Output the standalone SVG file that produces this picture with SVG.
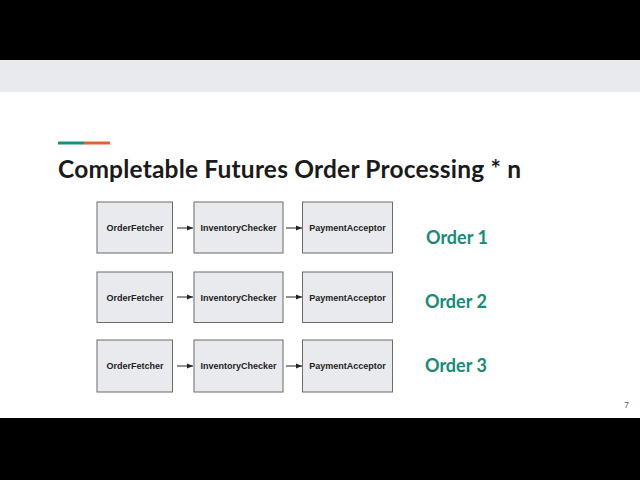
<svg xmlns="http://www.w3.org/2000/svg" width="640" height="480" viewBox="0 0 640 480">
<style>
.box{fill:#e9eaed;stroke:#6b6b6b;stroke-width:1}
.bt{font-family:"Liberation Sans",Arial,sans-serif;font-weight:bold;font-size:9px;fill:#222;text-anchor:middle}
.ord{font-family:Lato,"Liberation Sans",sans-serif;font-weight:bold;font-size:18px;fill:#178a78}
.conn{stroke:#222;stroke-width:1;fill:none;marker-end:url(#ah)}
</style>
<defs>
<marker id="ah" viewBox="0 0 10 10" refX="10" refY="5" markerWidth="6" markerHeight="6" markerUnits="userSpaceOnUse" orient="auto">
<path d="M0,1 L10,5 L0,9 Z" fill="#222"/>
</marker>
</defs>
<rect x="0" y="0" width="640" height="480" fill="#ffffff"/>
<rect x="0" y="0" width="640" height="60" fill="#000"/>
<rect x="0" y="60" width="640" height="32" fill="#e8eaed"/>
<rect x="0" y="418" width="640" height="62" fill="#000"/>
<rect x="58" y="141.5" width="26" height="3" fill="#17907f"/>
<rect x="84" y="141.5" width="26" height="3" fill="#e0622d"/>
<text x="58" y="178" font-family="Lato,'Liberation Sans',sans-serif" font-weight="bold" font-size="24.5" fill="#1a1a1a" textLength="463">Completable Futures Order Processing * n</text>
<g id="connectors">
<line class="conn" x1="177" y1="228" x2="193" y2="228"/>
<line class="conn" x1="286" y1="228" x2="302" y2="228"/>
<line class="conn" x1="177" y1="297" x2="193" y2="297"/>
<line class="conn" x1="286" y1="297" x2="302" y2="297"/>
<line class="conn" x1="177" y1="366" x2="193" y2="366"/>
<line class="conn" x1="286" y1="366" x2="302" y2="366"/>
</g>
<g id="r1-fetcher"><rect class="box" x="97" y="202" width="75.5" height="51"/><text class="bt" x="135" y="231">OrderFetcher</text></g>
<g id="r1-inventory"><rect class="box" x="194" y="202" width="89" height="51"/><text class="bt" x="238.5" y="231">InventoryChecker</text></g>
<g id="r1-payment"><rect class="box" x="302.5" y="202" width="90" height="51"/><text class="bt" x="347.5" y="231">PaymentAcceptor</text></g>
<g id="r2-fetcher"><rect class="box" x="97" y="272" width="75.5" height="50.5"/><text class="bt" x="135" y="300.5">OrderFetcher</text></g>
<g id="r2-inventory"><rect class="box" x="194" y="272" width="89" height="50.5"/><text class="bt" x="238.5" y="300.5">InventoryChecker</text></g>
<g id="r2-payment"><rect class="box" x="302.5" y="272" width="90" height="50.5"/><text class="bt" x="347.5" y="300.5">PaymentAcceptor</text></g>
<g id="r3-fetcher"><rect class="box" x="97" y="340" width="75.5" height="52"/><text class="bt" x="135" y="369">OrderFetcher</text></g>
<g id="r3-inventory"><rect class="box" x="194" y="340" width="89" height="52"/><text class="bt" x="238.5" y="369">InventoryChecker</text></g>
<g id="r3-payment"><rect class="box" x="302.5" y="340" width="90" height="52"/><text class="bt" x="347.5" y="369">PaymentAcceptor</text></g>
<g id="order1"><text class="ord" x="426" y="243.5">Order 1</text></g>
<g id="order2"><text class="ord" x="425" y="307.5">Order 2</text></g>
<g id="order3"><text class="ord" x="425" y="371.5">Order 3</text></g>
<text x="624" y="407.5" font-family="'Liberation Sans',Arial,sans-serif" font-size="9" fill="#666">7</text>
</svg>
